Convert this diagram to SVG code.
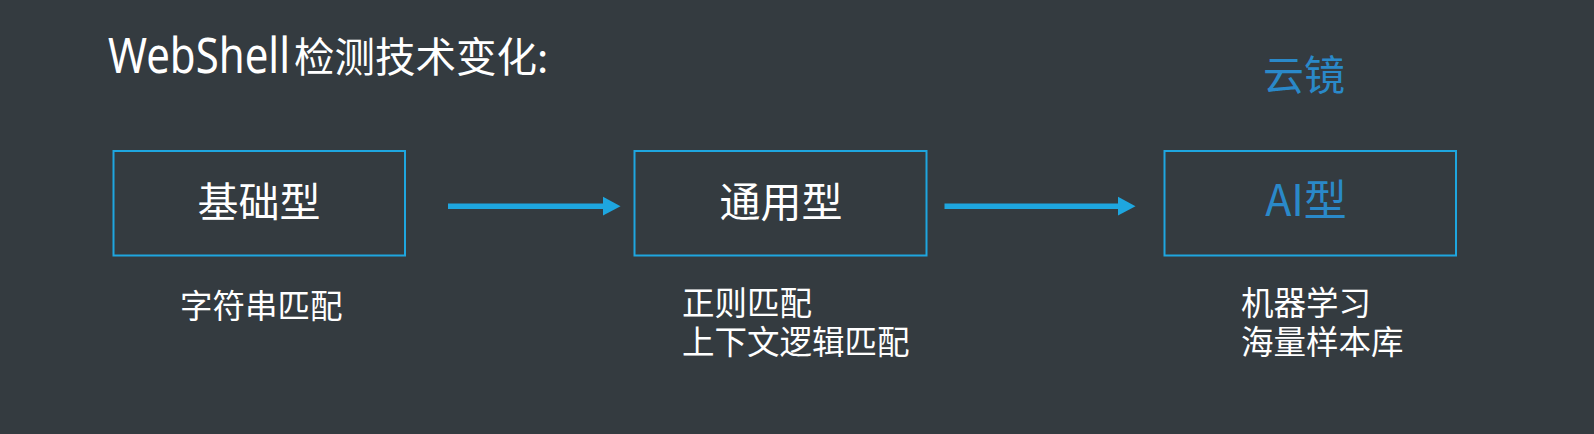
<svg xmlns="http://www.w3.org/2000/svg" width="1594" height="434" viewBox="0 0 1594 434">
  <defs>
    <style>
      .bg { fill: #343b40; }
      .box { fill: none; stroke: #1ea6df; stroke-width: 2; }
      .t { font-family: "Noto Sans CJK SC", "Noto Sans", sans-serif; fill: #ffffff; }
      .blue { fill: #2a89c9; }
      .line { stroke: #1ea6df; stroke-width: 5.5; fill: none; }
      .head { fill: #1ea6df; }
    </style>
  </defs>
  <rect class="bg" x="0" y="0" width="1594" height="434"/>

  <g id="title">
    <text class="t" x="108" y="73"><tspan font-size="49" textLength="182" lengthAdjust="spacingAndGlyphs" font-family="'Noto Sans', sans-serif">WebShell</tspan><tspan x="294" y="72" font-size="40.5">检测技术变化:</tspan></text>
  </g>

  <g id="label-yunjing">
    <text class="t blue" x="1263" y="90" font-size="41">云镜</text>
  </g>

  <g id="node-basic">
    <rect class="box" x="113.5" y="151" width="291.5" height="104.5"/>
    <text class="t" x="259" y="217" font-size="41" text-anchor="middle">基础型</text>
  </g>

  <g id="node-general">
    <rect class="box" x="634.5" y="151" width="292" height="104.5"/>
    <text class="t" x="781" y="217" font-size="41" text-anchor="middle">通用型</text>
  </g>

  <g id="node-ai">
    <rect class="box" x="1164.5" y="151" width="291.5" height="104.5"/>
    <text class="t blue" x="1306" y="216" font-size="43" text-anchor="middle">AI型</text>
  </g>

  <g id="desc-basic">
    <text class="t" x="180" y="318" font-size="32.5">字符串匹配</text>
  </g>

  <g id="desc-general">
    <text class="t" font-size="32.5"><tspan x="682" y="315">正则匹配</tspan><tspan x="682" y="354">上下文逻辑匹配</tspan></text>
  </g>

  <g id="desc-ai">
    <text class="t" font-size="32.5"><tspan x="1241" y="315">机器学习</tspan><tspan x="1241" y="354">海量样本库</tspan></text>
  </g>

  <g id="connectors">
    <line class="line" x1="448" y1="206.3" x2="605" y2="206.3"/>
    <polygon class="head" points="603,196.7 620.5,206.3 603,215.5"/>
    <line class="line" x1="944.5" y1="206.3" x2="1120" y2="206.3"/>
    <polygon class="head" points="1118,196.7 1135.5,206.3 1118,215.5"/>
  </g>
</svg>
